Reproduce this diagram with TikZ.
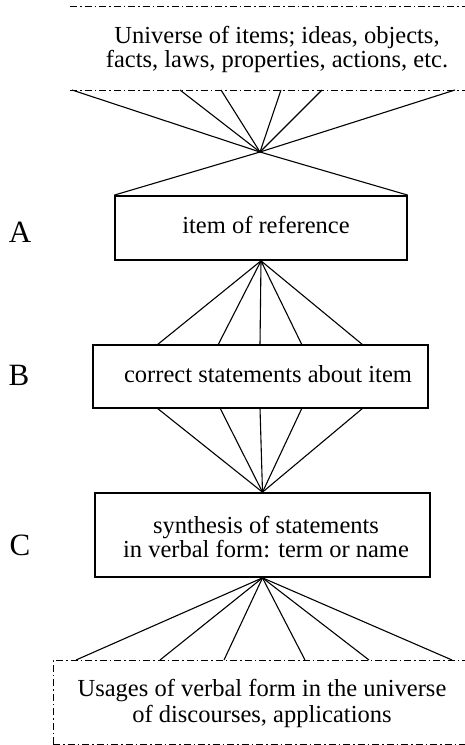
\documentclass[tikz,border=0pt]{standalone}
\usepackage{fontspec}
\setmainfont{Liberation Serif}
\begin{document}
\begin{tikzpicture}[x=1pt,y=-1pt,
  box/.style={draw,line width=1.7pt,inner sep=0pt},
  txt/.style={align=center,inner sep=0pt,font=\fontsize{24.5}{24}\selectfont},
  lbl/.style={inner sep=0pt,anchor=base,font=\fontsize{31}{31}\selectfont},
  ray/.style={line width=1.1pt},
  dashline/.style={line width=0.9pt,dash pattern=on 7pt off 3pt on 1.5pt off 3pt}]
\useasboundingbox[fill=white] (0,0) rectangle (465,745);

% universe of items (open band, top and bottom rules only)
\draw[dashline] (70,6) -- (465,6);
\draw[dashline] (70,90) -- (465,90);
\node[txt] (univ) at (277,49.4)
  {Universe of items; ideas, objects,\\facts, laws, properties, actions, etc.};

% central boxes
\node[box,minimum width=292pt,minimum height=64pt] (A) at (261,228) {};
\node[txt,anchor=base] (Atxt) at (266,233) {item of reference};
\node[box,minimum width=335pt,minimum height=63pt] (B) at (260.5,376.5) {};
\node[txt,anchor=base] (Btxt) at (268,382) {correct statements about item};
\node[box,minimum width=335pt,minimum height=84pt] (C) at (262.5,535) {};
\node[txt] (Ctxt) at (266,537)
  {synthesis of statements\\in verbal form: term or name};

% usages band (left side, top and bottom rules)
\draw[dashline] (53,744) -- (53,660) -- (465,660);
\draw[dashline] (53,744) -- (465,744);
\node[txt,font=\fontsize{24.5}{26}\selectfont] (usage) at (262,703.4)
  {Usages of verbal form in the universe\\of discourses, applications};

% level labels
\node[lbl] (labA) at (20,242) {A};
\node[lbl] (labB) at (19,385) {B};
\node[lbl] (labC) at (20,555) {C};

% convergence point below the universe band
\coordinate (P) at (260,152);
\foreach \x [count=\i] in {72,180,221,281,322,455}
  \coordinate (u\i) at (\x,90);
\foreach \i in {1,...,6}
  \draw[ray] (u\i) -- (P);
\draw[ray] (P) -- (A.north west);
\draw[ray] (P) -- (A.north east);

% A fans out to B
\foreach \x [count=\i] in {157,218,260,302,363}
  \coordinate (bt\i) at (\x,345);
\foreach \i in {1,...,5}
  \draw[ray] (A.south) -- (bt\i);

% B gathers into C
\foreach \x [count=\i] in {157,220,260,302,363}
  \coordinate (bb\i) at (\x,408);
\foreach \i in {1,...,5}
  \draw[ray] (bb\i) -- (C.north);

% C fans out to the usages band
\foreach \x [count=\i] in {76,160,224,305,369,452}
  \coordinate (us\i) at (\x,660);
\foreach \i in {1,...,6}
  \draw[ray] (C.south) -- (us\i);
\end{tikzpicture}
\end{document}
